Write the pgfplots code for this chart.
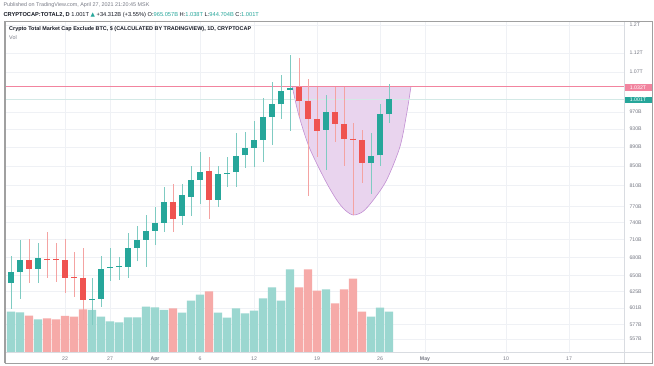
\documentclass[border=0pt]{standalone}
\usepackage{pgfplots}
\pgfplotsset{compat=1.18}
\usepackage{fontspec}
\setmainfont{Liberation Sans}
\newfontfamily\dejavu{DejaVu Sans}
\definecolor{upc}{HTML}{26A69A}
\definecolor{dnc}{HTML}{EF5350}
\definecolor{upw}{HTML}{7FCBC2}
\definecolor{dnw}{HTML}{F4A3A2}
\definecolor{upv}{HTML}{9BD7D0}
\definecolor{dnv}{HTML}{F6AAA8}
\definecolor{gridc}{HTML}{EFF1F5}
\definecolor{pinkl}{HTML}{F2849F}
\definecolor{lastl}{HTML}{D3E9E6}
\definecolor{cupf}{HTML}{E9D4EE}
\definecolor{cupe}{HTML}{C28FD3}
\definecolor{txt}{HTML}{131722}
\definecolor{txtg}{HTML}{787B86}
\definecolor{framec}{HTML}{A0A0A0}
\definecolor{sepc}{HTML}{D9DCE1}
\begin{document}
\begin{tikzpicture}[x=1pt,y=1pt]
\fill[white] (0,0) rectangle (654,366);
% grid and tick labels
\begin{axis}[at={(5pt,14pt)}, anchor=south west, scale only axis,
  width=619pt, height=330pt, xmin=-16.667, xmax=52.111,
  ymode=log, ymin=539.4, ymax=1208.8,
  axis line style={draw=none},
  xtick={-10,-5,0,5,11,18,25,30,39,46},
  xticklabels={22,27,\textbf{Apr},6,12,19,26,\textbf{May},10,17},
  ytick={557,577,601,625,650,680,710,740,770,810,850,890,930,970,1070,1120,1200},
  yticklabels={557B,577B,601B,625B,650B,680B,710B,740B,770B,810B,850B,890B,930B,970B,1.07T,1.12T,1.2T},
  yticklabel pos=right,
  yminorticks=false,
  grid=major, major grid style={gridc, line width=0.5pt},
  major tick length=0pt,
  tick label style={font=\fontsize{5.2}{6}\selectfont, text=txtg},
  xticklabel style={yshift=-1.5pt},
  yticklabel style={xshift=2pt},
]
\addplot[draw=none] coordinates {(0,700)};
\end{axis}
% volume
\begin{axis}[at={(5pt,14pt)}, anchor=south west, scale only axis,
  width=619pt, height=330pt, xmin=-16.667, xmax=52.111,
  ymin=0, ymax=330, axis lines=none]
\addplot[ybar, bar width=8.2pt, bar shift=0pt, fill=upv, draw=none] coordinates {
(-16,40.3) (-15,39.7) (-13,32.7) (-7,42.0) (-6,35.3) (-5,30.7) (-4,29.7)
(-3,34.7) (-2,34.7) (-1,45.3) (0,44.7) (1,42.0) (3,39.3) (4,51.3) (5,57.3)
(7,39.3) (8,34.3) (9,43.7) (10,38.7) (11,41.3) (12,53.7) (13,64.5) (14,51.3)
(15,82.7) (19,62.7) (24,35.3) (25,44.3) (26,40.3)};
\addplot[ybar, bar width=8.2pt, bar shift=0pt, fill=dnv, draw=none] coordinates {
(-14,36.3) (-12,33.7) (-11,32.7) (-10,36.0) (-9,35.3) (-8,42.7) (2,43.7)
(6,60.7) (16,64.7) (17,82.7) (18,61.3) (20,48.7) (21,62.7) (22,73.3) (23,40.3)};
\end{axis}
% price
\begin{axis}[at={(5pt,14pt)}, anchor=south west, scale only axis,
  width=619pt, height=330pt, xmin=-16.667, xmax=52.111,
  ymode=log, ymin=539.4, ymax=1208.8, axis lines=none]
\addplot[cupe, fill=cupf, line width=0.6pt, smooth, tension=0.5] coordinates {
(15.26,1032) (15.92,967.0) (17.11,891.1) (18.89,821.5) (20.19,782.3)
(21.11,763.4) (22.03,754.1) (23.11,760.6) (24.26,782.3) (25.74,821.5)
(27.22,891.1) (27.97,967.0) (28.44,1032)};
\addplot[lastl, line width=0.5pt] coordinates {(-16.667,1001) (52.111,1001)};
\addplot[pinkl, line width=0.9pt] coordinates {(-16.667,1032) (52.111,1032)};
% teal wicks
\addplot[upw, line width=0.9pt, unbounded coords=jump] table[row sep=\\] {
x y\\
-16 599.3\\ -16 682.2\\ -16 nan\\
-15 614.1\\ -15 709.4\\ -15 nan\\
-13 638.6\\ -13 704.2\\ -13 nan\\
-7 576.3\\ -7 646.4\\ -7 nan\\
-6 602.2\\ -6 682.2\\ -6 nan\\
-5 641.7\\ -5 695.6\\ -5 nan\\
-4 643.3\\ -4 680.5\\ -4 nan\\
-3 646.4\\ -3 722.2\\ -3 nan\\
-2 673.1\\ -2 733.2\\ -2 nan\\
-1 664.6\\ -1 754.1\\ -1 nan\\
0 700.8\\ 0 769.6\\ 0 nan\\
1 723.9\\ 1 807.5\\ 1 nan\\
3 735.9\\ 3 813.5\\ 3 nan\\
4 752.8\\ 4 850.1\\ 4 nan\\
5 774.7\\ 5 880.3\\ 5 nan\\
7 769.6\\ 7 850.1\\ 7 nan\\
8 807.5\\ 8 869.6\\ 8 nan\\
9 807.5\\ 9 921.5\\ 9 nan\\
10 845.9\\ 10 924.4\\ 10 nan\\
11 848.6\\ 11 949.6\\ 11 nan\\
12 858.4\\ 12 1002.6\\ 12 nan\\
13 894.9\\ 13 1044.7\\ 13 nan\\
14 953.6\\ 14 1061.9\\ 14 nan\\
15 926.7\\ 15 1115.1\\ 15 nan\\
19 841.8\\ 19 1011.2\\ 19 nan\\
24 793.8\\ 24 922.2\\ 24 nan\\
25 850.1\\ 25 989.2\\ 25 nan\\
26 944.7\\ 26 1038.7\\
};
% red wicks
\addplot[dnw, line width=0.9pt, unbounded coords=jump] table[row sep=\\] {
x y\\
-14 638.6\\ -14 711.1\\ -14 nan\\
-12 646.4\\ -12 723.4\\ -12 nan\\
-11 640.2\\ -11 704.2\\ -11 nan\\
-10 623.2\\ -10 711.1\\ -10 nan\\
-9 617.1\\ -9 688.9\\ -9 nan\\
-8 583.4\\ -8 695.6\\ -8 nan\\
2 723.9\\ 2 813.5\\ 2 nan\\
6 746.8\\ 6 869.0\\ 6 nan\\
16 959.0\\ 16 1107.0\\ 16 nan\\
17 790.5\\ 17 1051.6\\ 17 nan\\
18 869.6\\ 18 1032.0\\ 18 nan\\
20 902.1\\ 20 1032.0\\ 20 nan\\
21 850.1\\ 21 1032.0\\ 21 nan\\
22 754.1\\ 22 945.0\\ 22 nan\\
23 816.1\\ 23 928.3\\
};
% teal bodies (open, close)
\addplot[upc, line width=6.3pt, unbounded coords=jump] table[row sep=\\] {
x y\\
-16 638.6\\ -16 656.0\\ -16 nan\\
-15 656.0\\ -15 675.5\\ -15 nan\\
-13 661.5\\ -13 678.8\\ -13 nan\\
-7 612.6\\ -7 614.1\\ -7 nan\\
-6 614.1\\ -6 661.3\\ -6 nan\\
-5 662.4\\ -5 664.1\\ -5 nan\\
-4 664.1\\ -4 665.7\\ -4 nan\\
-3 664.6\\ -3 695.6\\ -3 nan\\
-2 696.2\\ -2 709.4\\ -2 nan\\
-1 709.4\\ -1 725.2\\ -1 nan\\
0 725.7\\ 0 740.0\\ 0 nan\\
1 740.0\\ 1 778.5\\ 1 nan\\
3 752.3\\ 3 791.9\\ 3 nan\\
4 788.6\\ 4 821.5\\ 4 nan\\
5 821.5\\ 5 838.3\\ 5 nan\\
7 782.3\\ 7 834.2\\ 7 nan\\
8 833.6\\ 8 836.3\\ 8 nan\\
9 837.1\\ 9 871.8\\ 9 nan\\
10 872.6\\ 10 889.0\\ 10 nan\\
11 888.3\\ 11 905.9\\ 11 nan\\
12 905.9\\ 12 957.1\\ 12 nan\\
13 958.3\\ 13 989.2\\ 13 nan\\
14 988.5\\ 14 1021.9\\ 14 nan\\
15 1023.7\\ 15 1029.4\\ 15 nan\\
19 928.3\\ 19 969.3\\ 19 nan\\
24 857.0\\ 24 871.1\\ 24 nan\\
25 872.6\\ 25 965.3\\ 25 nan\\
26 965.1\\ 26 1001.0\\
};
% red bodies (open, close)
\addplot[dnc, line width=6.3pt, unbounded coords=jump] table[row sep=\\] {
x y\\
-14 675.5\\ -14 660.8\\ -14 nan\\
-12 677.7\\ -12 675.5\\ -12 nan\\
-11 676.4\\ -11 674.7\\ -11 nan\\
-10 675.5\\ -10 646.4\\ -10 nan\\
-9 648.0\\ -9 646.4\\ -9 nan\\
-8 646.4\\ -8 612.6\\ -8 nan\\
2 778.5\\ 2 746.8\\ 2 nan\\
6 839.8\\ 6 782.3\\ 6 nan\\
16 1030.0\\ 16 996.5\\ 16 nan\\
17 997.2\\ 17 952.9\\ 17 nan\\
18 952.9\\ 18 926.7\\ 18 nan\\
20 969.3\\ 20 942.0\\ 20 nan\\
21 942.0\\ 21 907.4\\ 21 nan\\
22 908.7\\ 22 905.2\\ 22 nan\\
23 905.2\\ 23 855.7\\
};
\end{axis}
% frame and separators
\draw[sepc, line width=0.6pt] (5,14) -- (652,14);
\draw[sepc, line width=0.6pt] (624,2.5) -- (624,344.5);
\draw[framec, line width=0.7pt] (5,2.5) rectangle (652,344.5);
\draw[framec, line width=1.3pt] (5,2.5) -- (5,344.5);
% price labels on the scale
\node[anchor=west, fill=pinkl, text=white, font=\fontsize{5.2}{6}\selectfont, inner xsep=1.5pt, inner ysep=1.2pt, minimum width=27pt] at (624.3,278.5) {1.032T};
\node[anchor=west, fill=upc, text=white, font=\fontsize{5.2}{6}\selectfont, inner xsep=1.5pt, inner ysep=1.2pt, minimum width=27pt] at (624.3,266) {1.001T};
% header texts
\node[anchor=west, inner sep=0pt, font=\fontsize{5.4}{6}\selectfont, text=txtg] at (3.3,360.7) {Published on TradingView.com, April 27, 2021 21:20:45 MSK};
\node[anchor=west, inner sep=0pt, font=\fontsize{5.7}{6.5}\selectfont, text=txt] at (3.3,351.3) {\textbf{CRYPTOCAP:TOTAL2, D} 1.001T {\dejavu\color{upc}▲} +34.312B (+3.55\%) O:\textcolor{upc}{965.057B} H:\textcolor{upc}{1.038T} L:\textcolor{upc}{944.704B} C:\textcolor{upc}{1.001T}};
\node[anchor=west, inner sep=0pt, font=\bfseries\fontsize{5.45}{6.5}\selectfont, text=txt] at (9,337) {Crypto Total Market Cap Exclude BTC, \$ (CALCULATED BY TRADINGVIEW), 1D, CRYPTOCAP};
\node[anchor=west, inner sep=0pt, font=\fontsize{5.4}{6}\selectfont, text=txtg] at (9,328.3) {Vol};
\end{tikzpicture}
\end{document}
